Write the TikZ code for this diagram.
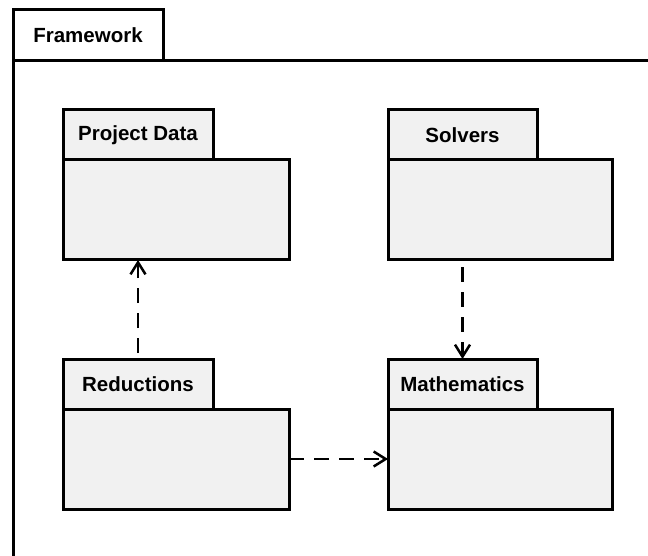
\documentclass[tikz,border=0pt]{standalone}
\usepackage{fontspec}
\setmainfont{Liberation Sans}
\usetikzlibrary{arrows.meta}
\definecolor{pkgfill}{HTML}{F1F1F1}
\tikzset{
  pkgtab/.style={draw, line width=3pt, fill=pkgfill, rectangle, inner sep=0pt, outer sep=0pt,
    anchor=north west, minimum height=50pt, font=\bfseries\fontsize{20.5}{24}\selectfont},
  pkgbody/.style={draw, line width=3pt, fill=pkgfill, rectangle, inner sep=0pt, outer sep=0pt,
    anchor=north west, minimum height=100pt},
  dep/.style={line width=2.5pt, dash pattern=on 15pt off 10pt,
    -{Straight Barb[length=12pt,width=15pt,line width=2.5pt]}},
}
\begin{document}
\begin{tikzpicture}[x=1pt,y=-1pt]
\useasboundingbox[fill=white] (0,0) rectangle (648,556);
\begin{scope}
\clip (0,0) rectangle (648,556);
% frame
\draw[line width=3pt, fill=white] (13,61) rectangle (700,620);
\node[draw, line width=3pt, fill=white, rectangle, inner sep=0pt, outer sep=0pt, anchor=north west,
  minimum width=150pt, minimum height=51pt, font=\bfseries\fontsize{20.5}{24}\selectfont]
  (fw) at (13,10) {Framework};
\end{scope}
% packages
\node[pkgbody, minimum width=226pt] (pdb) at (63,160) {};
\node[pkgtab, minimum width=150pt] (pdt) at (63,110) {Project Data};
\node[pkgbody, minimum width=224pt] (solb) at (388,160) {};
\node[pkgtab, minimum width=149pt] (solt) at (388,110) {Solvers};
\node[pkgbody, minimum width=226pt] (redb) at (63,409) {};
\node[pkgtab, minimum width=150pt] (redt) at (63,359) {Reductions};
\node[pkgbody, minimum width=224pt] (matb) at (388,409) {};
\node[pkgtab, minimum width=149pt] (matt) at (388,359) {Mathematics};
% dependencies
\draw[dep, shorten <=6pt] (redt.north) -- (redt.north |- pdb.south);
\draw[dep, shorten <=7pt] (solb.south -| matt.north) -- (matt.north);
\draw[dep] (redb.east) -- (matb.west);
\end{tikzpicture}
\end{document}
